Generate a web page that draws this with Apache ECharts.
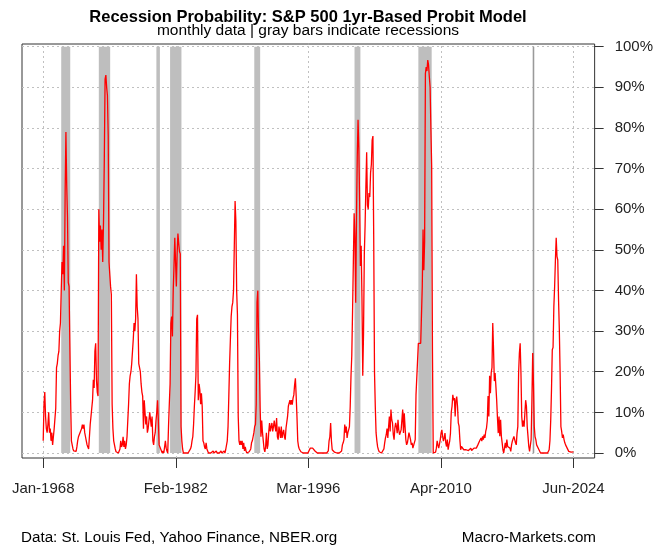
<!DOCTYPE html>
<html><head><meta charset="utf-8">
<script src="https://cdn.jsdelivr.net/npm/echarts@6/dist/echarts.min.js"></script>
<style>html,body{margin:0;padding:0;background:#fff}#c{width:656px;height:546px}</style>
</head><body><div id="c"></div>
<script>
// Monthly recession probability (%), Jan-1968 .. Jun-2024
const p1968_1969 = [3,12,15,9,6,5,7,10,5,6,3,5, 2,4,6,6,11,21,22,24,25,30,32,40];
const p1970s = [
  47,44,51,40,64,79,66,58,42,41,41,13,
  3,2,1,0.5,0.2,0.2,0.4,1.5,3,4,4.5,5,
  5,6,7,6,7,5,4,3,2,1.5,1,1,
  7,9,11,13,18,16,25,27,18,15,14,60,
  52,56,50,55,47,57,72,92,93,90,88,78,
  47,44,41,39,12,6,3,2,1,0.3,0,0,
  0,0.5,1,3,1.5,2,4,1.5,3,1,2,4,
  8,12,17,19,20,22,22,28,32,30,33,44,
  36,33,22,21,20,17,15,14,6,13,10,7,
  9,5,6,8,10,10,6.5,9,3,2,4,5
];
const p1980s = [
  8,10,13,8,2,1.5,1,0.5,0,0.5,0,0.3,
  3,1.2,0.5,0,6.5,12,17,32,33.6,28.7,40,46,
  53,53,41,49,54,51.6,49.6,49,6.5,3,1,0,
  0,0,0,0,0,0,0,0,1,1.6,3,4,
  7,11.5,15,19,33,34,13,17,15.5,12,14.7,11.5,
  3,2.5,1.5,1,2.5,1,0.5,0,0.3,0,0,0,
  0,0.5,0,0.3,0,0.5,0,0,0.3,0,0,0.5,
  0,0.3,0,0.5,0,0.8,1,3,6.5,14,22,28,
  33.6,36,37,40,51,62,57,40,34,9,3,2,
  3,2,3,1,2.5,0.5,1.5,0.5,0,0,0,0.3
];
const p1990s = [
  0.5,1,2.5,3,4,5,6.5,7,12,37,40,28,
  23,11,4,8,5,3,1,0.3,1.6,5,1,2,
  5.3,7.4,5.3,6.5,7.4,5.3,6.5,8,6.5,5.3,8.6,4,
  3.3,6.5,5.3,3.7,6.5,3.7,4.9,5.7,4,3.3,6.1,5.7,
  9,11.5,11.9,13,11.9,13,11.9,13.5,14.3,16.8,18.4,14,
  9,3,1.6,1,0.8,0.3,0,0,0,0,0,0,
  0,0,0,0,0.4,1.2,1,1.6,1.2,1,0.8,0.5,
  0.4,0.2,0,0,0,0,0,0,0,0,0,0,
  0,0,0,0.3,0.5,3,4,7.4,3,0.8,0.4,0.4,
  0.2,0,0,0,0,0,0,0,0.4,0.5,2,2.5
];
const p2000s = [
  3.3,7,5,6.5,3.7,5,5.7,6.5,11.5,19,24,35,
  47,59,53,37,58,73,82,75,62,46,51,38,
  19,29.5,49,56,65.6,74,61,60,64,63,69,71,
  77,78,53,20,11.5,5,3,1.5,0.8,0.3,0,0,
  0,0,0.4,1,2.5,3.7,4.5,6,3.7,6.5,9,5.3,
  10.7,8.2,7.4,4.5,3.3,6.1,7.4,6.5,4.9,8.2,5.7,4.5,
  4.5,5.7,8.2,10.7,4.9,9.8,6.5,3.3,2,2.5,3.7,5,
  5,3.3,2,2.5,1.2,0.8,1.6,3.3,14.3,14.3,14.3,27,
  27,27,27,34,41,55,45,52,93.4,95,94,96.7,
  95.5,92.6,90,80,70.5,25.4,0,0,0,0.2,1.2,3
];
const p2010s = [
  2,1.2,1.2,3.3,4.9,5.7,4.1,2.9,3.7,4.9,2.5,1.6,
  3.3,0.8,2,2.9,4.9,10,11.5,14.3,13,13.5,9,13,
  13.9,11.5,7.4,6.6,3.3,0.8,1.6,1.2,2,0.8,1.2,0.8,
  0.8,1,1.2,0.6,0.4,0.8,1.2,0.6,0.4,0.8,1.2,1.6,
  1.6,1.2,1.2,2,2,2.9,2.5,3.7,2.9,4.1,3.3,4.5,
  3.7,5.3,6.1,8,14,9,19,14.7,19.7,21,32,25.4,
  17.7,19.7,16.4,13,8.6,4.9,9,4.1,8.2,4.1,2.5,0.8,
  0,0.4,2.5,1.2,3.3,1.6,2,1.2,1.2,0.4,2,2.9,
  3,4.1,3.3,2.5,2,4.9,6.5,19.7,24.6,27,19.7,9,
  6.5,8,6.5,9.8,13,11.5,6.5,4.1,1.6,0.4,0,3.3
];
const p2020s = [
  13,24.6,17,6.5,4,3.3,2,2,1.6,0.8,0.4,0,
  0,0,0,0,0,0,0,0,0,0,0.8,3,
  8,15.6,25.4,26,36,41,47.5,53,48.4,47.5,37.7,30.3,
  19.7,6.5,5.3,3.7,4.5,3.3,2.5,2,1.6,1.2,0.8,0.4,
  0.4,0.3,0.2,0.5,0.4,0.3
];
// Recession spans (month index from Jan-1968)
const recessions = [[23,34.5],[71,85.5],[144.5,149],[162,176.5],[269.5,277],[397.5,405],[479,496],[625,627]];
const xTickValues = [0,169.25,338.5,507.75,677];
const xTickLabels = ['Jan-1968','Feb-1982','Mar-1996','Apr-2010','Jun-2024'];
const yTickValues = [0,10,20,30,40,50,60,70,80,90,100];

const probs = [].concat(p1968_1969,p1970s,p1980s,p1990s,p2000s,p2010s,p2020s);
const lineData = probs.map((v,i)=>[i,v]);
const FONT = '"Liberation Sans", Arial, sans-serif';

const chart = echarts.init(document.getElementById('c'), null, {renderer:'canvas'});
chart.setOption({
  animation:false,
  backgroundColor:'#fff',
  grid:{left:22, right:58, top:44, bottom:88, show:true, borderColor:'#333', borderWidth:1, backgroundColor:'transparent'},
  xAxis:{
    type:'value', min:-27.08, max:704.08,
    axisLine:{show:false, onZero:false},
    splitLine:{show:false},
    axisTick:{show:true, customValues:xTickValues, length:10, lineStyle:{color:'#333'}},
    axisLabel:{customValues:xTickValues, margin:23, fontSize:15, color:'#222', fontFamily:FONT,
      formatter:function(v){let best=0;for(let i=0;i<xTickValues.length;i++){if(Math.abs(xTickValues[i]-v)<Math.abs(xTickValues[best]-v))best=i;}return xTickLabels[best];}}
  },
  yAxis:{
    type:'value', position:'right', min:-1.23, max:100.66,
    axisLine:{show:false, onZero:false},
    splitLine:{show:false},
    axisTick:{show:true, customValues:yTickValues, length:9, lineStyle:{color:'#333'}},
    axisLabel:{customValues:yTickValues, margin:20, fontSize:15, color:'#222', fontFamily:FONT,
      padding:[4,0,0,0],
      formatter:function(v){return v+'%';}}
  },
  graphic:[
    {type:'text', z:10, style:{x:308, y:17, text:'Recession Probability: S&P 500 1yr-Based Probit Model', fontSize:16.5, fontWeight:'bold', fontFamily:FONT, fill:'#000', align:'center', verticalAlign:'middle'}},
    {type:'text', z:10, style:{x:308, y:31, text:'monthly data | gray bars indicate recessions', fontSize:15.5, fontFamily:FONT, fill:'#000', align:'center', verticalAlign:'middle'}},
    {type:'text', z:10, style:{x:21, y:538, text:'Data: St. Louis Fed, Yahoo Finance, NBER.org', fontSize:15.2, fontFamily:FONT, fill:'#000', align:'left', verticalAlign:'middle'}},
    {type:'text', z:10, style:{x:596, y:538, text:'Macro-Markets.com', fontSize:15.2, fontFamily:FONT, fill:'#000', align:'right', verticalAlign:'middle'}}
  ],
  series:[{
    type:'line', data:lineData, symbol:'none', silent:true,
    lineStyle:{color:'#ff0000', width:1.3},
    itemStyle:{color:'#ff0000'},
    z:3,
    markArea:{
      silent:true, z:1,
      itemStyle:{color:'#bebebe', opacity:1},
      data:recessions.map(function(r, i){
        const a = {xAxis:r[0], yAxis:0};
        if (r[1]-r[0] < 3) a.itemStyle = {color:'#9a9a9a'};
        return [a,{xAxis:r[1], yAxis:100}];
      })
    },
    markLine:{
      silent:true, z:0, symbol:['none','none'], animation:false,
      label:{show:false},
      lineStyle:{color:'#c0c0c0', type:[2,3], width:1},
      data:yTickValues.map(function(v){return {yAxis:v};}).concat(xTickValues.map(function(v){return {xAxis:v};}))
    }
  }]
});
</script>
</body></html>
